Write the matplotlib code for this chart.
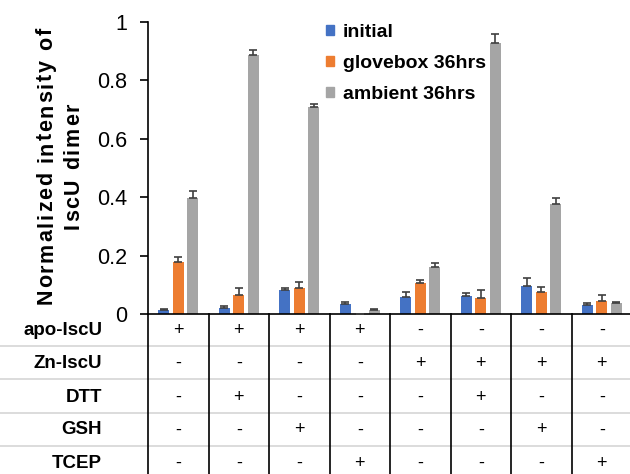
import matplotlib
matplotlib.use("Agg")
import matplotlib.pyplot as plt
import numpy as np
from matplotlib.transforms import blended_transform_factory
from matplotlib.lines import Line2D
from matplotlib.patches import Patch
from matplotlib.font_manager import FontProperties, findfont
from matplotlib.ft2font import FT2Font

plt.rcParams['font.family'] = ['Liberation Sans', 'DejaVu Sans']

series_names = ["initial", "glovebox 36hrs", "ambient 36hrs"]
initial = [0.014, 0.022, 0.082, 0.033, 0.059, 0.063, 0.097, 0.030]
glovebox = [0.177, 0.066, 0.088, 0.0, 0.105, 0.056, 0.074, 0.043]
ambient = [0.396, 0.887, 0.708, 0.013, 0.162, 0.927, 0.377, 0.037]
initial_err = [0.003, 0.005, 0.006, 0.008, 0.015, 0.009, 0.025, 0.007]
glovebox_err = [0.017, 0.023, 0.021, 0.0, 0.011, 0.027, 0.017, 0.021]
ambient_err = [0.026, 0.017, 0.010, 0.003, 0.012, 0.031, 0.019, 0.005]

row_labels = ["apo-IscU", "Zn-IscU", "DTT", "GSH", "TCEP"]
table = [
    ["+", "+", "+", "+", "-", "-", "-", "-"],
    ["-", "-", "-", "-", "+", "+", "+", "+"],
    ["-", "+", "-", "-", "-", "+", "-", "-"],
    ["-", "-", "+", "-", "-", "-", "+", "-"],
    ["-", "-", "-", "+", "-", "-", "-", "+"],
]
yticks = [0, 0.2, 0.4, 0.6, 0.8, 1.0]
ytick_labels = ["0", "0.2", "0.4", "0.6", "0.8", "1"]
ylabel_lines = ["Normalized intensity of", "IscU dimer"]

colors = ["#4472C4", "#ED7D31", "#A5A5A5"]
W, H = 630, 474
fig = plt.figure(figsize=(W / 100, H / 100), dpi=100)
ax = fig.add_axes([148 / W, 1 - 314 / H, 484 / W, 292 / H])

n = len(initial)
x = np.arange(n)
bw = 0.18
offs = [-0.24, 0.0, 0.24]
vals = [initial, glovebox, ambient]
errs = [initial_err, glovebox_err, ambient_err]
for i in range(3):
    v = np.array(vals[i])
    e = np.array(errs[i])
    ax.bar(x + offs[i], v, width=bw, color=colors[i], zorder=2)
    ax.errorbar(x + offs[i], v, yerr=[np.zeros_like(e), e], fmt='none',
                ecolor='#404040', elinewidth=1.2, capsize=3, capthick=1.2, zorder=3)

ax.set_xlim(-0.5, n - 0.5)
ax.set_ylim(0, 1)
ax.set_yticks(yticks)
ax.set_yticklabels(ytick_labels, fontsize=15.5)
ax.set_xticks([])
for s in ['top', 'right']:
    ax.spines[s].set_visible(False)
ax.spines['left'].set_linewidth(1.2)
ax.spines['bottom'].set_linewidth(1.2)
ax.tick_params(axis='y', direction='out', length=6, width=1.2, pad=9)

# letter-spaced, rotated y label
ylab_size = 15.5
prop = FontProperties(family='Liberation Sans', weight='bold', size=ylab_size)
ft = FT2Font(findfont(prop))
ft.set_size(ylab_size, 100)
track = 1.8
baselines = [52, 79]
center_y = 166
for line, bx in zip(ylabel_lines, baselines):
    adv = []
    for ch in line:
        g = ft.load_char(ord(ch))
        adv.append(g.linearHoriAdvance / 65536.0)
    total = sum(adv) + track * (len(line) - 1)
    pos = center_y + total / 2.0  # bottom in pixels from top
    for ch, a in zip(line, adv):
        fig.text(bx / W, 1 - pos / H, ch, rotation=90, rotation_mode='anchor',
                 ha='left', va='baseline', fontproperties=prop)
        pos -= a + track

handles = [Patch(color=c) for c in colors]
leg = ax.legend(handles, series_names, loc='upper left', bbox_to_anchor=(0.351, 1.02),
                frameon=False, prop={'size': 14, 'weight': 'bold'},
                handlelength=0.42, handleheight=0.42, handletextpad=0.45, labelspacing=0.72,
                borderaxespad=0)

# table below the axis
trans = blended_transform_factory(ax.transData, fig.transFigure)
row_y = [330.5, 363, 397, 430, 463]
hline_y = [346, 379, 413, 446]
for yy in hline_y:
    fig.add_artist(Line2D([0, 1.0], [1 - yy / H, 1 - yy / H], color='#D9D9D9', lw=1.3,
                          transform=fig.transFigure))
for b in np.arange(-0.5, n, 1.0):
    fig.add_artist(Line2D([b, b], [1 - 314 / H, 0], color='black', lw=1.2, transform=trans))
for r, lab in enumerate(row_labels):
    fig.text(102 / W, 1 - row_y[r] / H, lab, ha='right', va='center', fontsize=13.5,
             fontweight='bold')
    for c in range(n):
        fig.text(x[c], 1 - row_y[r] / H, table[r][c], ha='center', va='center',
                 fontsize=13, transform=trans)

fig.savefig("out.png", dpi=100)
